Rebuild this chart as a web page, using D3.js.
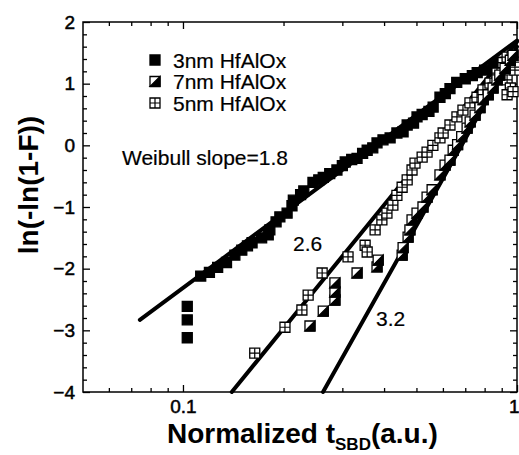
<!DOCTYPE html>
<html>
<head>
<meta charset="utf-8">
<script src="https://cdn.jsdelivr.net/npm/d3@7"></script>
<style>
  body { margin: 0; background: #fff; }
  text { font-family: "Liberation Sans", Arial, sans-serif; fill: #000; }
  .tick-label { font-size: 19px; stroke: #000; stroke-width: 0.5px; }
  .axis-title { font-size: 28px; font-weight: bold; }
  .note { font-size: 21px; stroke: #000; stroke-width: 0.2px; }
</style>
</head>
<body>
<div id="wrapper"></div>
<script>
// data
const t3nm = [0.103,0.103,0.103,0.113,0.120,0.127,0.135,0.143,0.150,0.156,0.161,0.172,0.180,0.182,0.190,0.195,0.205,0.212,0.214,0.225,0.230,0.245,0.255,0.263,0.275,0.289,0.300,0.306,0.320,0.332,0.345,0.356,0.370,0.381,0.397,0.417,0.437,0.456,0.469,0.490,0.502,0.520,0.545,0.561,0.588,0.610,0.630,0.660,0.700,0.735,0.760,0.800,0.848,0.880]
const w3nm = [-3.12,-2.83,-2.61,-2.12,-2.06,-1.98,-1.90,-1.78,-1.70,-1.63,-1.58,-1.50,-1.45,-1.37,-1.24,-1.16,-1.10,-0.98,-0.89,-0.80,-0.74,-0.60,-0.56,-0.52,-0.46,-0.40,-0.33,-0.27,-0.23,-0.21,-0.13,-0.08,-0.04,0.04,0.09,0.12,0.20,0.22,0.33,0.36,0.46,0.50,0.55,0.62,0.78,0.84,0.92,1.02,1.08,1.13,1.18,1.22,1.28,1.35]

const t7nm = [0.240,0.263,0.285,0.285,0.285,0.332,0.381,0.384,0.453,0.456,0.472,0.478,0.485,0.502,0.523,0.538,0.557,0.588,0.609,0.630,0.644,0.664,0.683,0.709,0.724,0.749,0.775,0.792,0.820,0.848,0.871,0.888,0.921,0.955,0.973]
const w7nm = [-2.93,-2.69,-2.51,-2.38,-2.23,-2.07,-1.97,-1.86,-1.78,-1.66,-1.49,-1.37,-1.21,-1.10,-1.00,-0.84,-0.72,-0.48,-0.32,-0.24,-0.08,0.01,0.14,0.28,0.38,0.49,0.61,0.74,0.82,0.93,1.06,1.14,1.25,1.38,1.46]

const t5nm = [0.164,0.202,0.227,0.237,0.261,0.312,0.351,0.356,0.376,0.394,0.408,0.425,0.437,0.453,0.469,0.485,0.495,0.520,0.538,0.560,0.588,0.601,0.630,0.661,0.689,0.723,0.759,0.791,0.830,0.871,0.908,0.934,0.934,0.955,0.934,0.973,0.986,0.986]
const w5nm = [-3.37,-2.95,-2.67,-2.43,-2.07,-1.81,-1.62,-1.73,-1.37,-1.21,-1.10,-0.97,-0.81,-0.68,-0.56,-0.40,-0.29,-0.19,-0.11,0.00,0.12,0.20,0.33,0.46,0.57,0.69,0.78,0.90,1.01,1.17,1.34,1.43,1.06,0.93,0.82,0.87,1.22,1.35]

// fitted lines, end points [t, ln(-ln(1-F))]
const fit18 = [[0.0743, -2.83], [1.0, 1.70]]
const fit26 = [[0.140, -4.0], [1.0, 1.68]]
const fit32 = [[0.2626, -4.0], [1.0, 1.60]]

const seriesNames = ["3nm HfAlOx", "7nm HfAlOx", "5nm HfAlOx"]
const xTickLabels = [0.1, 1]
const yTickLabels = [-4, -3, -2, -1, 0, 1, 2]

function drawChart() {

    // 1. dimensions
    let dimensions = {
        width: 519,
        height: 455,
        margin: { top: 22, right: 2, bottom: 63, left: 83 },
    }
    dimensions.boundedWidth = dimensions.width - dimensions.margin.left - dimensions.margin.right
    dimensions.boundedHeight = dimensions.height - dimensions.margin.top - dimensions.margin.bottom

    // 2. canvas
    const wrapper = d3.select("#wrapper")
        .append("svg")
        .attr("width", dimensions.width)
        .attr("height", dimensions.height)

    wrapper.append("rect")
        .attr("width", dimensions.width)
        .attr("height", dimensions.height)
        .attr("fill", "#fff")

    const bounds = wrapper.append("g")
        .attr("transform", `translate(${dimensions.margin.left}, ${dimensions.margin.top})`)

    // 3. scales
    const xScale = d3.scaleLog()
        .domain([0.0502, 1])
        .range([0, dimensions.boundedWidth])

    const yScale = d3.scaleLinear()
        .domain([-4, 2])
        .range([dimensions.boundedHeight, 0])

    // 4. axes (ticks point inward, mirrored on top/right)
    const xMinor = [0.06, 0.07, 0.08, 0.09, 0.2, 0.3, 0.4, 0.5, 0.6, 0.7, 0.8, 0.9]
    const yMinor = d3.range(-4, 2.001, 0.2).filter(v => Math.abs(v - Math.round(v)) > 0.01)

    const styleAxis = g => {
        g.select(".domain").remove()
        g.selectAll("line").attr("stroke", "#000").attr("stroke-width", 1.3)
    }

    bounds.append("g")
        .attr("transform", `translate(0, ${dimensions.boundedHeight})`)
        .call(d3.axisBottom(xScale).tickValues(xTickLabels).tickSize(-7).tickPadding(8).tickFormat(d3.format("")))
        .call(styleAxis)
        .call(g => g.selectAll("text").attr("class", "tick-label").attr("font-size", null).attr("font-family", null))
        // the "1" sits on the right edge of the picture
        .call(g => g.selectAll("text").filter(d => d == 1).attr("text-anchor", "end").attr("x", 2))
    bounds.append("g")
        .attr("transform", `translate(0, ${dimensions.boundedHeight})`)
        .call(d3.axisBottom(xScale).tickValues(xMinor).tickSize(-4).tickFormat(""))
        .call(styleAxis)
    bounds.append("g")
        .call(d3.axisTop(xScale).tickValues(xTickLabels).tickSize(-7).tickFormat(""))
        .call(styleAxis)
    bounds.append("g")
        .call(d3.axisTop(xScale).tickValues(xMinor).tickSize(-4).tickFormat(""))
        .call(styleAxis)

    bounds.append("g")
        .call(d3.axisLeft(yScale).tickValues(yTickLabels).tickSize(-7).tickPadding(8).tickFormat(d3.format("d")))
        .call(styleAxis)
        .call(g => g.selectAll("text").attr("class", "tick-label").attr("font-size", null).attr("font-family", null))
    bounds.append("g")
        .call(d3.axisLeft(yScale).tickValues(yMinor).tickSize(-4).tickFormat(""))
        .call(styleAxis)
    bounds.append("g")
        .attr("transform", `translate(${dimensions.boundedWidth}, 0)`)
        .call(d3.axisRight(yScale).tickValues(yTickLabels).tickSize(-7).tickFormat(""))
        .call(styleAxis)
    bounds.append("g")
        .attr("transform", `translate(${dimensions.boundedWidth}, 0)`)
        .call(d3.axisRight(yScale).tickValues(yMinor).tickSize(-4).tickFormat(""))
        .call(styleAxis)

    // frame
    bounds.append("rect")
        .attr("width", dimensions.boundedWidth)
        .attr("height", dimensions.boundedHeight)
        .attr("fill", "none")
        .attr("stroke", "#000")
        .attr("stroke-width", 1.5)

    // 5. fitted lines
    const lineGenerator = d3.line()
        .x(d => xScale(d[0]))
        .y(d => yScale(d[1]))

    bounds.selectAll(".fit")
        .data([fit18, fit26, fit32])
        .enter().append("path")
        .attr("class", "fit")
        .attr("d", lineGenerator)
        .attr("fill", "none")
        .attr("stroke", "#000")
        .attr("stroke-width", 4)
        .attr("stroke-linecap", "round")

    // 6. markers
    const s = 5
    const markerPaths = {
        filled: { outline: `M${-s},${-s}H${s}V${s}H${-s}Z`, fill: "#000", inner: null },
        half: { outline: `M${-s},${-s}H${s}V${s}H${-s}Z`, fill: "#fff", inner: `M${s},${-s}L${s},${s}L${-s},${s}Z` },
        cross: { outline: `M${-s},${-s}H${s}V${s}H${-s}Z`, fill: "#fff", inner: `M0,${-s}V${s}M${-s},0H${s}` },
    }

    const drawMarker = (g, kind) => {
        const m = markerPaths[kind]
        g.append("path")
            .attr("d", m.outline)
            .attr("fill", m.fill)
            .attr("stroke", "#000")
            .attr("stroke-width", 1.3)
        if (m.inner) {
            g.append("path")
                .attr("d", m.inner)
                .attr("fill", kind == "half" ? "#000" : "none")
                .attr("stroke", "#000")
                .attr("stroke-width", 1.2)
        }
    }

    const series = [
        { kind: "filled", t: t3nm, w: w3nm },
        { kind: "cross", t: t5nm, w: w5nm },
        { kind: "half", t: t7nm, w: w7nm },
    ]

    series.forEach(sr => {
        const pts = sr.t.map((t, i) => [t, sr.w[i]])
        bounds.append("g").selectAll("g")
            .data(pts)
            .enter().append("g")
            .attr("transform", d => `translate(${xScale(d[0])}, ${yScale(d[1])})`)
            .each(function () { drawMarker(d3.select(this), sr.kind) })
    })

    // 7. peripherals
    const legendKinds = ["filled", "half", "cross"]
    const legend = wrapper.append("g")
    seriesNames.forEach((name, i) => {
        const row = legend.append("g").attr("transform", `translate(155, ${60 + i * 21.5})`)
        drawMarker(row, legendKinds[i])
        row.append("text")
            .attr("class", "note")
            .attr("x", 18)
            .attr("y", 7.5)
            .text(name)
    })

    wrapper.append("text")
        .attr("class", "note")
        .attr("x", 122)
        .attr("y", 165)
        .text("Weibull slope=1.8")

    wrapper.append("text")
        .attr("class", "note")
        .attr("x", 293)
        .attr("y", 251)
        .text("2.6")

    wrapper.append("text")
        .attr("class", "note")
        .attr("x", 376)
        .attr("y", 326)
        .text("3.2")

    const xTitle = wrapper.append("text")
        .attr("class", "axis-title")
        .attr("x", 167)
        .attr("y", 443)
    xTitle.append("tspan").text("Normalized t")
    xTitle.append("tspan").attr("dy", 7).style("font-size", "17px").text("SBD")
    xTitle.append("tspan").attr("dy", -7).text("(a.u.)")

    wrapper.append("text")
        .attr("class", "axis-title")
        .attr("transform", "translate(38, 185) rotate(-90)")
        .attr("text-anchor", "middle")
        .text("ln(-ln(1-F))")
}

drawChart()
</script>
</body>
</html>
